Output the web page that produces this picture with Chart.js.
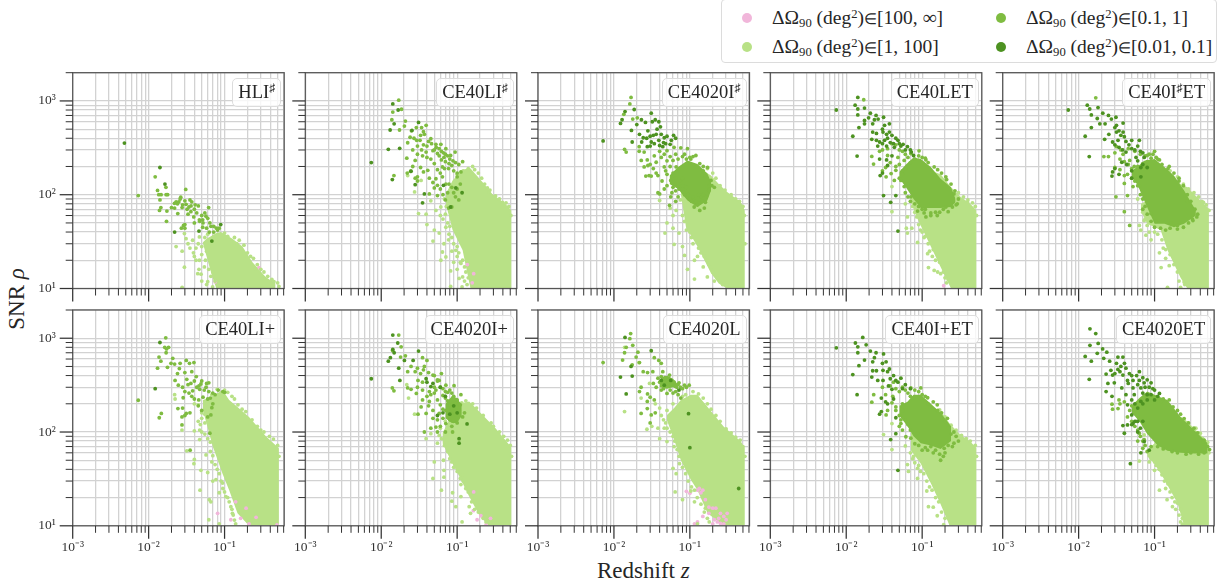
<!DOCTYPE html>
<html>
<head>
<meta charset="utf-8">
<script src="https://cdn.jsdelivr.net/npm/chart.js@4"></script>
<style>
  body { margin: 0; background: #fff; width: 1220px; height: 588px; overflow: hidden; position: relative; font-family: "Liberation Serif", serif; color: #262626; }
  canvas { position: absolute; }
  sup, sub { font-size: 65%; line-height: 0; position: relative; vertical-align: baseline; }
  sup { top: -0.45em; }
  sub { top: 0.25em; }
  .tag { position: absolute; border: 1px solid #dcdcdc; border-radius: 5px; background: rgba(255,255,255,0.8); padding: 0 5px; font-size: 18.5px; line-height: 27px; white-space: nowrap; }
  .legend { position: absolute; left: 721px; top: -1px; width: 494px; height: 62px; border: 1px solid #dcdcdc; border-radius: 4px; background: #fff; }
  .dot { position: absolute; width: 10px; height: 10px; border-radius: 50%; }
  .entry { position: absolute; font-size: 19.5px; line-height: 20px; white-space: nowrap; }
  .entry .in { font-size: 15px; }
  .title { position: absolute; font-size: 23px; white-space: nowrap; }
</style>
</head>
<body>
<div class="title" style="left:597px;top:558px">Redshift <i>z</i></div>
<div class="title" style="left:-14px;top:286px;transform:rotate(-90deg)">SNR <i>ρ</i></div>
<script>
// tick values
const xTickValues = [0.001,0.002,0.003,0.004,0.005,0.006,0.007,0.008,0.009,0.01,0.02,0.03,0.04,0.05,0.06,0.07,0.08,0.09,0.1,0.2,0.3,0.4,0.5,0.6];
const yTickValues = [10,20,30,40,50,60,70,80,90,100,200,300,400,500,600,700,800,900,1000,2000];
const xTickLabels = { 0.001: "10⁻³", 0.01: "10⁻²", 0.1: "10⁻¹" };
const yTickLabels = { 10: "10¹", 100: "10²", 1000: "10³" };

// HLI#
const hliDark = [[0.0048,355],[0.0141,195],[0.0164,130],[0.068,32],[0.046,41],[0.022,40],[0.089,48]];
const hliMid = [[0.0122,155],[0.0073,98],[0.0131,111],[0.0136,100],[0.0146,100],[0.0169,120],[0.017,100],[0.0178,100],[0.0308,114],[0.0265,94],[0.035,88],[0.0141,88],[0.0145,73],[0.0139,68],[0.0174,67],[0.02,73],[0.0219,81],[0.025,84],[0.0276,73],[0.0311,79],[0.0362,76],[0.0452,76],[0.0617,73],[0.0321,70],[0.0242,63],[0.0393,58],[0.0466,54],[0.0569,59],[0.0515,54],[0.0172,52],[0.0288,47],[0.0661,46],[0.081,42],[0.0515,45],[0.063,40],
  [0.033,62],[0.036,66],[0.04,70],[0.043,64],[0.05,60],[0.055,64],[0.047,52],[0.052,50],[0.06,56],[0.064,50],[0.072,46],[0.078,44],[0.058,44],[0.03,48],[0.027,44],[0.03,44],[0.028,78],[0.024,80],[0.023,84],[0.026,90],[0.037,84],[0.03,86],[0.022,72],[0.034,74],[0.041,78],[0.072,40],[0.085,44],[0.04,50]];
const hliLight = [[0.023,28],[0.0276,25],[0.0296,16.9],[0.0276,10.3],[0.0389,24],[0.0443,14.4],[0.049,14.2],[0.06,11.8],[0.0696,10.4],[0.0421,20],[0.0466,20],[0.0542,17],[0.038,32.7],[0.0296,38.5],[0.0311,34],[0.0466,35.5],[0.156,32.7],[0.257,16.3],[0.447,11.8],
  [0.045,30],[0.05,28],[0.042,27],[0.055,35],[0.06,38],[0.05,23],[0.056,20],[0.062,16],[0.066,13.5],[0.07,15],[0.075,12],[0.058,25],[0.062,28],[0.065,33],[0.072,36],[0.08,36],[0.1,39],[0.11,36],[0.135,35],[0.145,30],[0.18,29],[0.2,24],[0.22,22],[0.24,21],[0.27,18],[0.3,16],[0.33,15],[0.37,13.5],[0.42,12.5],[0.5,11.5],[0.52,10.5],[0.04,22],[0.046,16],[0.035,27],[0.033,30],[0.05,12],[0.058,11]];
const hliPink = [[0.284,16.7],[0.0755,11.8]];
const hliMassZ = [0.0515,0.058,0.0696,0.078,0.0895,0.127,0.172,0.233,0.348,0.47];
const hliMassTop = [31,34,37,39,40,34,28,19,13.3,11.3];
const hliMassLow = [31,22,13,10,10,10,10,10,10,10];

// CE40LI#
const ce40liSharpDark = [[0.0142,930],[0.0124,305],[0.0175,312],[0.0074,220],[0.014,145],[0.0167,800],[0.0148,570],[0.0131,490],[0.0254,485],[0.031,590],[0.037,102],[0.035,82],[0.028,128],[0.0247,178],[0.116,105],[0.096,118],[0.066,126],[0.082,74]];
const ce40liSharpMid = [[0.017,1020],[0.0185,815],[0.0142,760],[0.0138,630],[0.0174,490],[0.0208,610],[0.0202,540],[0.0223,358],[0.0293,380],[0.0324,380],[0.037,440],[0.039,550],[0.045,395],[0.0525,345],[0.061,345],[0.071,310],[0.094,285],[0.039,285],[0.048,295],[0.055,275],[0.067,250],[0.082,262],[0.118,225],[0.028,232],[0.0217,245],[0.0244,178],[0.03,155],[0.041,182],[0.0525,148],[0.064,198],[0.077,190],[0.1,155],[0.112,175],[0.064,155],[0.071,130],[0.1,115],[0.055,126],[0.043,102],[0.055,98],[0.0147,160],[0.077,72],[0.085,74],
  [0.03,330],[0.034,300],[0.036,340],[0.04,330],[0.042,370],[0.046,350],[0.05,300],[0.053,320],[0.058,310],[0.062,290],[0.066,280],[0.07,270],[0.075,260],[0.08,240],[0.088,230],[0.095,220],[0.105,210],[0.058,260],[0.062,235],[0.07,225],[0.078,215],[0.085,205],[0.09,180],[0.1,170],[0.068,190],[0.06,170],[0.055,185],[0.05,215],[0.045,240],[0.04,250],[0.035,260],[0.03,270],[0.026,300],[0.024,410],[0.027,400],[0.033,430],[0.029,520],[0.034,520],[0.036,470],[0.025,480],[0.078,130],[0.085,120],[0.09,105],[0.075,105],[0.065,100],[0.06,115],[0.05,118],[0.048,135],[0.043,150],[0.036,175],[0.033,195],[0.026,200],[0.022,170],[0.028,150],[0.03,140],[0.11,130],[0.095,95],[0.105,88],[0.07,88]];
const ce40liSharpLight = [[0.031,63],[0.039,62],[0.04,48],[0.05,42],[0.058,39],[0.048,32],[0.067,30],[0.077,33],[0.064,24.5],[0.071,21.7],[0.061,20],[0.082,15.4],[0.112,18.5],[0.106,12.8],[0.118,13.3],[0.082,10.5],[0.116,10.4],[0.0525,68],[0.045,86],[0.061,74],[0.071,45],[0.096,25.5],[0.118,20],[0.0275,107],[0.0335,142],[0.0223,160],[0.262,107],[0.395,83],
  [0.06,60],[0.065,55],[0.07,62],[0.072,75],[0.068,90],[0.075,50],[0.08,46],[0.078,38],[0.085,35],[0.09,30],[0.1,28],[0.1,22],[0.105,24],[0.11,19],[0.125,17],[0.13,15],[0.125,12],[0.135,11],[0.14,13],[0.09,19],[0.1,16],[0.085,25],[0.14,190],[0.16,200],[0.12,180],[0.1,165],[0.19,170],[0.23,130],[0.25,118],[0.27,112],[0.32,97],[0.36,90],[0.44,82],[0.48,75],[0.51,60],[0.17,185],[0.21,150]];
const ce40liSharpPink = [[0.136,18],[0.165,14.4],[0.158,11.5]];
const ce40liSharpMassZ = [0.071,0.087,0.118,0.136,0.15,0.215,0.29,0.43,0.52];
const ce40liSharpMassTop = [102,142,183,190,190,137,102,80,68];
const ce40liSharpMassLow = [80,42,25.5,14.5,10,10,10,10,10];

// CE4020I#
const ce4020iSharpDark = [[0.0072,375],[0.014,770],[0.0128,630],[0.0122,575],[0.017,485],[0.0174,365],[0.031,740],[0.026,590],[0.032,600],[0.035,630],[0.039,600],[0.037,500],[0.041,530],[0.0217,440],[0.0243,405],[0.0232,365],[0.031,365],[0.039,380],[0.04,335],[0.046,405],[0.061,430],[0.057,380],[0.044,325],[0.0275,325],[0.0185,810],
  [0.02,560],[0.023,630],[0.028,480],[0.03,420],[0.033,430],[0.036,440],[0.042,440],[0.05,420],[0.048,350],[0.055,345],[0.03,330],[0.034,350],[0.027,400],[0.065,400],[0.045,360]];
const ce4020iSharpMid = [[0.0168,1090],[0.0162,930],[0.0135,720],[0.0177,640],[0.0203,660],[0.0138,305],[0.0145,285],[0.0215,325],[0.0215,290],[0.025,285],[0.0229,232],[0.0275,235],[0.028,205],[0.025,198],[0.033,190],[0.0263,158],[0.031,158],[0.038,160],[0.036,222],[0.042,250],[0.05,295],[0.062,320],[0.076,316],[0.093,310],[0.12,262],[0.103,240],[0.046,198],[0.05,165],[0.06,232],[0.066,198],[0.056,142],[0.046,115],[0.038,105],[0.04,102],[0.056,95],[0.054,77],[0.072,115],[0.082,107],[0.093,95],[0.114,74],[0.135,68],[0.155,72],[0.16,83],[0.14,95],[0.178,111],[0.19,142],[0.15,180],[0.171,195],
  [0.055,200],[0.06,170],[0.065,150],[0.07,130],[0.075,140],[0.08,150],[0.08,125],[0.085,100],[0.09,120],[0.095,100],[0.1,90],[0.105,85],[0.11,95],[0.12,85],[0.125,78],[0.13,100],[0.145,85],[0.15,100],[0.165,95],[0.18,125],[0.195,125],[0.21,120],[0.06,120],[0.065,110],[0.07,95],[0.065,85],[0.058,105],[0.05,125],[0.043,140],[0.048,180],[0.055,255],[0.065,270],[0.07,240],[0.08,255],[0.085,270],[0.09,240],[0.1,250],[0.11,255],[0.135,215],[0.15,200],[0.145,160],[0.03,210],[0.034,260],[0.04,290],[0.046,270],[0.05,230],[0.036,170],[0.029,160]];
const ce4020iSharpLight = [[0.05,50],[0.047,39],[0.06,44],[0.072,39],[0.062,29.5],[0.085,22.5],[0.08,28],[0.093,16],[0.115,12.6],[0.115,20],[0.126,22],[0.11,30],[0.15,17],[0.17,13.3],[0.178,18],[0.04,87],[0.066,68],
  [0.08,60],[0.085,52],[0.09,42],[0.1,40],[0.105,35],[0.125,32],[0.13,27],[0.14,24],[0.155,22],[0.17,20],[0.19,17],[0.2,15],[0.23,13],[0.25,12],[0.27,11],[0.21,12],[0.055,72],[0.06,60],[0.075,88],[0.25,125],[0.29,112],[0.35,100],[0.4,90],[0.45,85],[0.5,75],[0.52,60],[0.53,30],[0.22,150],[0.2,170],[0.17,190]];
const ce4020iSharpPink = [];
const ce4020iSharpMassZ = [0.076,0.089,0.126,0.19,0.24,0.31,0.47,0.53];
const ce4020iSharpMassTop = [111,155,198,160,130,107,83,68];
const ce4020iSharpMassLow = [102,45,28,14.5,11.3,10,10,10];
const ce4020iSharpBlobZ = [0.054,0.07,0.093,0.126,0.17,0.19];
const ce4020iSharpBlobTop = [160,198,232,212,168,137];
const ce4020iSharpBlobLow = [130,115,87,74,87,111];

// CE40LET
const ce40letDark = [[0.0074,800],[0.0142,1090],[0.0131,900],[0.0142,820],[0.0174,840],[0.0142,710],[0.0208,740],[0.0174,620],[0.0197,660],[0.0247,700],[0.0263,640],[0.031,670],[0.0235,630],[0.0174,570],[0.0147,520],[0.0223,570],[0.0122,420],[0.0139,258],[0.032,550],[0.037,570],[0.0305,465],[0.037,465],[0.0223,465],[0.0217,390],[0.0275,365],[0.032,380],[0.04,430],[0.048,380],[0.0525,330],[0.043,320],[0.064,325],[0.077,262],[0.028,160],[0.035,205],[0.0275,240],[0.031,98],[0.045,98],[0.0385,83],[0.048,41],
  [0.025,450],[0.03,500],[0.034,440],[0.035,400],[0.038,360],[0.042,350],[0.045,400],[0.05,350],[0.056,345],[0.06,300],[0.07,300],[0.072,285],[0.03,350],[0.034,330],[0.026,330],[0.04,260],[0.03,170],[0.034,235],[0.025,380]];
const ce40letMid = [[0.017,1030],[0.0217,256],[0.0229,212],[0.0275,290],[0.035,262],[0.0335,155],[0.039,168],[0.045,182],[0.043,142],[0.0525,142],[0.058,122],[0.058,232],[0.048,250],[0.071,275],[0.091,294],[0.112,235],[0.144,198],[0.205,155],[0.262,102],[0.29,80],[0.205,74],[0.158,60],[0.13,64],[0.106,64],[0.087,67],[0.071,95],[0.112,58],
  [0.03,300],[0.035,310],[0.04,350],[0.045,340],[0.05,300],[0.055,290],[0.06,270],[0.065,250],[0.07,220],[0.08,240],[0.09,260],[0.1,250],[0.11,245],[0.12,220],[0.045,200],[0.05,210],[0.055,180],[0.06,190],[0.05,150],[0.055,165],[0.065,130],[0.06,105],[0.07,85],[0.08,80],[0.09,75],[0.1,70],[0.11,70],[0.13,60],[0.15,65],[0.17,65],[0.19,70],[0.22,66],[0.25,74],[0.28,78],[0.3,90],[0.27,110],[0.24,130],[0.21,145],[0.18,170],[0.16,185],[0.033,195],[0.038,220],[0.03,180],[0.065,95]];
const ce40letLight = [[0.04,122],[0.04,66],[0.062,44],[0.073,44],[0.064,39],[0.087,31],[0.106,35],[0.118,23.5],[0.136,22],[0.121,16.7],[0.144,15.6],[0.16,15],[0.175,14.4],[0.395,83],[0.06,80],[0.064,58],
  [0.075,75],[0.08,65],[0.085,58],[0.09,48],[0.095,42],[0.1,40],[0.11,36],[0.12,30],[0.125,25],[0.14,26],[0.15,20],[0.17,19],[0.19,15],[0.2,13],[0.21,11.5],[0.22,12.5],[0.3,105],[0.35,95],[0.4,88],[0.46,82],[0.5,75],[0.52,60]];
const ce40letPink = [[0.192,10.7]];
const ce40letMassZ = [0.071,0.087,0.13,0.175,0.24,0.32,0.43,0.52];
const ce40letMassTop = [102,130,180,165,120,95,80,68];
const ce40letMassLow = [83,55,28,17,10,10,10,10];
const ce40letBlobZ = [0.05,0.061,0.077,0.096,0.13,0.175,0.24,0.275];
const ce40letBlobTop = [175,210,250,240,198,148,120,90];
const ce40letBlobLow = [150,120,90,72,72,72,74,83];

// CE40I#ET
const ce40iSharpEtDark = [[0.0073,800],[0.013,900],[0.018,850],[0.0147,710],[0.014,820],[0.0208,740],[0.0247,700],[0.027,640],[0.031,670],[0.0176,650],[0.019,570],[0.0147,520],[0.0223,570],[0.0122,420],[0.0138,255],[0.0315,550],[0.0385,580],[0.0315,465],[0.0385,465],[0.022,390],[0.028,365],[0.033,380],[0.04,415],[0.05,380],[0.063,380],[0.042,285],[0.057,250],[0.037,222],[0.028,175],[0.0275,158],[0.034,165],[0.066,195],[0.08,195],[0.066,155],[0.073,250],
  [0.025,440],[0.03,520],[0.034,480],[0.036,430],[0.042,370],[0.046,340],[0.05,310],[0.055,300],[0.06,330],[0.065,290],[0.07,280],[0.06,230],[0.07,210],[0.05,180],[0.03,340],[0.034,320],[0.038,300],[0.043,210],[0.05,150],[0.03,190]];
const ce40iSharpEtMid = [[0.0168,1080],[0.0215,255],[0.0247,255],[0.0315,325],[0.0385,270],[0.047,232],[0.054,200],[0.044,165],[0.04,132],[0.052,122],[0.063,125],[0.031,95],[0.044,98],[0.04,66],[0.047,47],[0.1,290],[0.116,235],[0.08,262],[0.156,200],[0.21,140],[0.27,85],[0.37,62],[0.315,55],[0.2,47],[0.163,50],[0.104,52],[0.09,63],[0.07,70],
  [0.05,150],[0.055,140],[0.06,125],[0.065,100],[0.07,90],[0.075,75],[0.08,62],[0.09,52],[0.1,45],[0.12,44],[0.14,42],[0.16,44],[0.2,43],[0.24,45],[0.28,50],[0.32,53],[0.36,58],[0.34,70],[0.3,85],[0.27,100],[0.24,125],[0.21,150],[0.18,170],[0.15,190],[0.125,210],[0.11,240],[0.09,245],[0.08,225],[0.07,215],[0.06,200],[0.05,190],[0.045,210],[0.04,225],[0.035,240],[0.03,280],[0.036,300],[0.045,310],[0.055,290],[0.065,270],[0.075,260],[0.085,270],[0.095,270],[0.105,250],[0.03,195],[0.035,185],[0.04,160]];
const ce40iSharpEtLight = [[0.063,47],[0.066,42],[0.077,37],[0.09,33],[0.116,24],[0.14,21],[0.122,16.7],[0.148,10.3],[0.156,17.5],[0.22,10.3],[0.44,83],[0.06,90],[0.073,53],[0.245,11.7],
  [0.07,65],[0.075,55],[0.08,47],[0.085,40],[0.1,40],[0.11,38],[0.125,33],[0.13,27],[0.14,26],[0.16,23],[0.18,18],[0.2,15],[0.21,12],[0.25,11],[0.24,130],[0.28,115],[0.33,105],[0.38,95],[0.42,85],[0.48,78],[0.52,68],[0.16,180],[0.2,155]];
const ce40iSharpEtPink = [];
const ce40iSharpEtMassZ = [0.066,0.08,0.12,0.148,0.22,0.27,0.4,0.52];
const ce40iSharpEtMassTop = [80,87,165,180,130,120,87,71];
const ce40iSharpEtMassLow = [68,49,42,25.5,13,10,10,10];
const ce40iSharpEtBlobZ = [0.05,0.06,0.073,0.1,0.135,0.18,0.245,0.35];
const ce40iSharpEtBlobTop = [180,200,230,240,198,160,111,68];
const ce40iSharpEtBlobLow = [155,126,87,49,49,45,49,60];

// CE40LI+
const ce40liPlusDark = [[0.0141,900],[0.0122,290]];
const ce40liPlusMid = [[0.0168,1010],[0.0163,800],[0.0183,800],[0.0172,770],[0.0137,630],[0.0145,570],[0.0131,480],[0.0177,490],[0.0208,610],[0.0197,540],[0.0313,580],[0.0345,540],[0.0395,550],[0.0254,475],[0.037,440],[0.0223,355],[0.0246,316],[0.0318,365],[0.0424,390],[0.062,335],[0.0488,325],[0.038,275],[0.047,285],[0.057,300],[0.0285,232],[0.037,240],[0.0457,220],[0.0825,280],[0.07,200],[0.068,182],[0.0243,178],[0.0313,158],[0.0275,145],[0.0147,158],[0.0138,142],[0.0275,119],[0.064,97],[0.0352,64],[0.066,152],[0.0073,218],
  [0.017,700],[0.022,530],[0.024,420],[0.026,540],[0.03,430],[0.033,320],[0.036,330],[0.04,350],[0.043,300],[0.046,310],[0.05,350],[0.054,280],[0.058,330],[0.062,270],[0.07,260],[0.075,250],[0.065,230],[0.06,225],[0.052,235],[0.03,270],[0.028,300],[0.034,260],[0.028,180],[0.03,150],[0.035,160],[0.04,225],[0.045,190],[0.05,170],[0.06,145],[0.095,270],[0.1,265]];
const ce40liPlusLight = [[0.022,250],[0.0223,225],[0.0275,105],[0.04,103],[0.047,105],[0.0318,63],[0.04,51],[0.0395,46],[0.0488,39],[0.06,37],[0.07,30],[0.0475,24],[0.063,19],[0.066,18],[0.085,22.5],[0.104,20.5],[0.062,11.6],[0.085,10.5],[0.121,16],[0.14,10.5],[0.047,83],[0.057,57],[0.077,31],[0.094,28.6],[0.127,13.6],
  [0.04,200],[0.045,195],[0.05,160],[0.05,140],[0.048,120],[0.055,125],[0.05,100],[0.055,95],[0.06,85],[0.065,78],[0.065,62],[0.07,56],[0.068,48],[0.075,45],[0.08,40],[0.085,36],[0.09,30],[0.095,25],[0.1,23],[0.11,20],[0.115,18],[0.125,15],[0.13,13],[0.135,11.5],[0.1,280],[0.11,265],[0.125,240],[0.135,225],[0.15,195],[0.17,175],[0.19,165],[0.23,135],[0.27,115],[0.3,105],[0.33,100],[0.39,90],[0.44,84],[0.5,72],[0.52,55],[0.045,130],[0.055,155],[0.062,195],[0.068,250],[0.08,285]];
const ce40liPlusPink = [[0.081,13.6],[0.121,11.6],[0.14,18],[0.192,15.4],[0.26,12.3],[0.163,12],[0.49,10.2],[0.21,10.5]];
const ce40liPlusMassZ = [0.052,0.07,0.094,0.115,0.148,0.21,0.35,0.52];
const ce40liPlusMassTop = [220,240,280,220,185,145,90,67];
const ce40liPlusMassLow = [170,70,36,24,13.6,10,10,10];

// CE4020I+
const ce4020iPlusDark = [[0.0074,370],[0.0142,1080],[0.0165,890],[0.0142,760],[0.0132,620],[0.0124,570],[0.0148,700],[0.017,480],[0.0176,355],[0.031,730],[0.0263,580],[0.0202,580],[0.039,370],[0.045,305],[0.106,76],[0.106,85],[0.135,122],
  [0.04,340],[0.048,330],[0.06,300],[0.07,240],[0.08,155],[0.09,190],[0.1,160],[0.065,160],[0.055,150]];
const ce4020iPlusMid = [[0.017,1080],[0.0183,810],[0.0141,740],[0.018,630],[0.0208,650],[0.0223,440],[0.0247,500],[0.028,440],[0.035,620],[0.04,580],[0.037,500],[0.0305,355],[0.035,340],[0.048,405],[0.062,420],[0.058,355],[0.071,316],[0.091,312],[0.0525,280],[0.043,270],[0.0247,285],[0.029,258],[0.0223,295],[0.014,295],[0.0147,275],[0.035,220],[0.043,212],[0.055,220],[0.0335,185],[0.039,158],[0.048,140],[0.058,158],[0.071,170],[0.087,200],[0.112,250],[0.095,152],[0.118,145],[0.106,170],[0.071,123],[0.0525,113],[0.045,110],[0.037,100],[0.087,100],[0.077,150],[0.1,185],[0.0305,155],
  [0.05,300],[0.055,350],[0.06,300],[0.065,290],[0.07,270],[0.075,265],[0.08,280],[0.085,260],[0.09,240],[0.1,220],[0.105,200],[0.11,195],[0.065,245],[0.07,230],[0.075,215],[0.08,195],[0.085,180],[0.09,165],[0.075,170],[0.065,175],[0.06,195],[0.05,260],[0.045,250],[0.04,240],[0.035,280],[0.03,300],[0.033,420],[0.03,480],[0.036,460],[0.042,430],[0.05,400],[0.055,360],[0.08,135],[0.09,130],[0.1,125],[0.065,140],[0.055,135],[0.048,170],[0.042,190],[0.06,115],[0.07,100],[0.055,100],[0.085,115],[0.125,160]];
const ce4020iPlusLight = [[0.0229,230],[0.0217,320],[0.0275,155],[0.039,85],[0.045,96],[0.055,76],[0.05,48],[0.066,50],[0.048,32],[0.067,39],[0.067,33],[0.062,24],[0.087,22.5],[0.085,18.3],[0.112,27.5],[0.112,20.5],[0.096,16],[0.116,11],[0.144,16],[0.15,13.6],[0.118,35],
  [0.058,92],[0.062,85],[0.068,72],[0.075,62],[0.08,52],[0.085,48],[0.09,42],[0.1,38],[0.11,32],[0.12,30],[0.13,25],[0.14,23],[0.155,18],[0.17,15],[0.19,14],[0.22,12],[0.24,11],[0.07,130],[0.08,140],[0.095,170],[0.115,205],[0.13,215],[0.16,200],[0.18,180],[0.22,150],[0.28,125],[0.3,115],[0.36,100],[0.41,90],[0.46,82],[0.5,72],[0.52,55],[0.06,110]];
const ce4020iPlusPink = [[0.163,14.5],[0.183,11.6],[0.205,12.8],[0.24,10.2],[0.275,12],[0.165,23]];
const ce4020iPlusMassZ = [0.064,0.087,0.106,0.144,0.195,0.26,0.32,0.5,0.52];
const ce4020iPlusMassTop = [97,158,200,212,165,130,110,71,68];
const ce4020iPlusMassLow = [76,46,34,20.5,13,10,10,10,10];
const ce4020iPlusBlobZ = [0.07,0.085,0.1,0.115];
const ce4020iPlusBlobTop = [200,240,230,190];
const ce4020iPlusBlobLow = [140,125,125,150];

// CE4020L
const ce4020lDark = [[0.014,1020],[0.031,735],[0.0174,395],[0.0122,385],[0.0145,255],[0.096,157],[0.1,68],[0.44,25],[0.0168,500],[0.042,355],[0.046,316],[0.056,355],[0.072,280]];
const ce4020lMid = [[0.0166,1120],[0.0162,990],[0.0177,840],[0.0145,800],[0.0138,700],[0.013,585],[0.0207,710],[0.0196,630],[0.0174,520],[0.0072,550],[0.034,620],[0.039,580],[0.042,540],[0.0217,550],[0.0243,440],[0.0277,430],[0.0325,440],[0.038,375],[0.044,440],[0.054,405],[0.072,335],[0.085,316],[0.098,316],[0.0228,300],[0.0217,270],[0.0277,255],[0.0275,212],[0.031,152],[0.0228,158],[0.0275,178],[0.042,280],[0.05,258],[0.076,230],
  [0.042,390],[0.044,370],[0.047,380],[0.05,350],[0.053,360],[0.057,330],[0.062,340],[0.066,310],[0.07,320],[0.075,300],[0.08,290],[0.09,300],[0.046,340],[0.04,340],[0.036,300],[0.033,330],[0.045,290],[0.055,280],[0.06,260],[0.065,270],[0.07,250],[0.03,235],[0.034,220],[0.035,160],[0.03,125]];
const ce4020lLight = [[0.0138,800],[0.0138,165],[0.0228,230],[0.0294,330],[0.0213,550],[0.0272,107],[0.0315,115],[0.038,110],[0.046,110],[0.04,85],[0.05,79],[0.062,70],[0.073,46],[0.064,23],[0.08,19],[0.115,18],[0.06,41],[0.066,36],[0.103,23.5],[0.16,15.4],[0.126,10.5],
  [0.035,200],[0.04,180],[0.042,150],[0.045,135],[0.048,125],[0.05,110],[0.055,100],[0.06,90],[0.063,80],[0.068,65],[0.072,55],[0.08,42],[0.088,36],[0.095,30],[0.105,26],[0.115,24],[0.125,20],[0.14,17],[0.155,14],[0.17,12],[0.18,11],[0.11,270],[0.13,255],[0.15,230],[0.17,200],[0.19,175],[0.22,150],[0.25,130],[0.3,108],[0.35,98],[0.4,88],[0.46,82],[0.5,70],[0.53,55],[0.088,250],[0.08,240],[0.06,200],[0.05,170]];
const ce4020lPink = [[0.09,23.3],[0.1,22.3],[0.133,25],[0.148,24],[0.14,22.5],[0.126,24],[0.16,19],[0.2,15.4],[0.22,15.4],[0.253,13.6],[0.28,12.6],[0.3,11.6],[0.24,12],[0.21,11.6],[0.23,11],[0.148,12.6],[0.178,13.6],[0.126,11],[0.115,10.5],[0.253,10.6],[0.2,10.5],[0.28,10.5],[0.31,13.6],[0.178,15.8]];
const ce4020lMassZ = [0.05,0.062,0.076,0.103,0.126,0.171,0.28,0.47,0.53];
const ce4020lMassTop = [152,180,220,250,250,185,114,79,67];
const ce4020lMassLow = [133,83,50,31,24,13.6,10,10,10];
const ce4020lBlobZ = [0.04,0.05,0.06,0.07];
const ce4020lBlobTop = [350,400,370,320];
const ce4020lBlobLow = [300,290,300,280];

// CE40I+ET
const ce40iPlusEtDark = [[0.0074,790],[0.0165,1020],[0.0132,890],[0.0183,850],[0.0142,810],[0.0142,700],[0.0208,730],[0.0247,700],[0.031,680],[0.0174,585],[0.0235,620],[0.0147,510],[0.0223,560],[0.0122,410],[0.0139,250],[0.0335,560],[0.0305,455],[0.037,470],[0.0223,450],[0.0217,385],[0.026,355],[0.0305,355],[0.045,355],[0.0525,375],[0.029,165],[0.0275,155],[0.035,200],[0.029,230],[0.04,285],[0.045,142],[0.048,39],[0.045,96],[0.0385,83],
  [0.025,450],[0.03,540],[0.035,440],[0.038,370],[0.042,400],[0.048,340],[0.06,320],[0.07,290],[0.055,290],[0.036,310],[0.033,210],[0.042,225]];
const ce40iPlusEtMid = [[0.023,250],[0.0217,208],[0.041,240],[0.0335,152],[0.055,200],[0.045,170],[0.0525,135],[0.071,295],[0.096,295],[0.118,232],[0.158,195],[0.215,140],[0.262,100],[0.262,76],[0.195,67],[0.175,50],[0.15,64],[0.118,64],[0.1,64],[0.087,97],[0.071,86],[0.0525,123],[0.061,89],
  [0.03,300],[0.033,250],[0.038,310],[0.042,340],[0.045,290],[0.05,270],[0.055,300],[0.06,280],[0.065,260],[0.07,240],[0.075,230],[0.08,280],[0.09,270],[0.1,250],[0.11,240],[0.12,200],[0.14,210],[0.16,170],[0.18,160],[0.2,130],[0.22,110],[0.24,95],[0.28,90],[0.3,80],[0.25,70],[0.22,72],[0.2,60],[0.19,55],[0.17,58],[0.13,70],[0.14,60],[0.11,68],[0.09,72],[0.08,75],[0.07,105],[0.06,135],[0.05,150],[0.055,170],[0.045,185],[0.04,205],[0.035,170],[0.055,105],[0.065,120],[0.05,115]];
const ce40iPlusEtLight = [[0.031,94],[0.04,123],[0.04,65],[0.06,71],[0.064,45],[0.066,38],[0.087,32],[0.115,23.5],[0.121,16],[0.14,15.8],[0.158,12.8],[0.192,10.3],[0.087,41],[0.077,55],
  [0.07,60],[0.075,52],[0.08,47],[0.09,44],[0.095,38],[0.105,36],[0.115,30],[0.125,26],[0.135,24],[0.15,20],[0.165,18],[0.18,14],[0.2,12],[0.28,105],[0.33,92],[0.38,85],[0.43,80],[0.5,72],[0.52,55],[0.24,118],[0.2,145],[0.17,172]];
const ce40iPlusEtPink = [];
const ce40iPlusEtMassZ = [0.071,0.096,0.13,0.175,0.23,0.32,0.43,0.52];
const ce40iPlusEtMassTop = [97,123,185,170,123,93,79,67];
const ce40iPlusEtMassLow = [64,46,28.5,17,10,10,10,10];
const ce40iPlusEtBlobZ = [0.05,0.064,0.077,0.096,0.13,0.175,0.24];
const ce40iPlusEtBlobTop = [190,210,250,250,200,160,115];
const ce40iPlusEtBlobLow = [150,115,90,76,72,66,80];

// CE4020ET
const ce4020etDark = [[0.0141,1260],[0.0168,1120],[0.0141,840],[0.0181,880],[0.0207,770],[0.0122,640],[0.0176,690],[0.0235,710],[0.0147,570],[0.0214,610],[0.0256,570],[0.0138,365],[0.0329,630],[0.0383,630],[0.0315,540],[0.0401,540],[0.023,415],[0.0266,455],[0.0329,465],[0.0383,405],[0.0466,420],[0.0632,440],[0.028,405],[0.0243,330],[0.0295,335],[0.044,355],[0.052,355],[0.063,355],[0.073,335],[0.09,335],[0.037,295],[0.052,295],[0.066,295],[0.1,280],[0.116,258],[0.023,270],[0.0275,240],[0.042,250],[0.054,250],[0.066,212],[0.08,220],[0.1,220],[0.044,195],[0.05,152],[0.0383,117],[0.044,119],[0.052,123],[0.04,97],[0.048,46],[0.06,100],[0.066,60],[0.073,79],[0.085,64],
  [0.03,420],[0.035,440],[0.036,500],[0.042,480],[0.05,400],[0.058,400],[0.07,380],[0.08,360],[0.045,330],[0.06,320],[0.075,300],[0.085,300],[0.095,290],[0.07,260],[0.08,250],[0.09,250],[0.11,240],[0.055,200],[0.05,220],[0.06,180],[0.07,200],[0.05,120],[0.055,130],[0.06,130],[0.065,110],[0.07,130]];
const ce4020etMid = [[0.034,220],[0.0275,198],[0.033,178],[0.028,175],[0.047,170],[0.044,145],[0.057,130],[0.063,97],[0.073,83],[0.07,67],[0.09,70],[0.122,212],[0.156,220],[0.2,170],[0.245,139],[0.33,110],[0.44,79],
  [0.035,200],[0.04,210],[0.05,190],[0.055,170],[0.06,150],[0.05,130],[0.055,115],[0.06,105],[0.065,90],[0.07,80],[0.075,72],[0.08,62],[0.06,80],[0.085,220],[0.095,240],[0.105,235],[0.13,225],[0.175,185],[0.22,155],[0.28,125],[0.37,98],[0.45,82],[0.5,70],[0.53,65],[0.45,60],[0.38,58],[0.3,60],[0.26,58],[0.2,60],[0.17,62],[0.13,66],[0.11,70]];
const ce4020etLight = [[0.063,49],[0.085,48],[0.1,39],[0.148,30],[0.116,24],[0.14,25],[0.146,19],[0.172,16],[0.2,17.5],[0.22,15],[0.233,12],[0.233,10.4],[0.4,97],[0.47,79],[0.073,93],
  [0.085,60],[0.09,52],[0.1,48],[0.105,44],[0.115,40],[0.125,35],[0.135,30],[0.15,28],[0.16,23],[0.17,20],[0.185,18],[0.19,15],[0.21,13],[0.22,11],[0.27,125],[0.35,110],[0.43,85],[0.5,78],[0.52,60]];
const ce4020etPink = [];
const ce4020etMassZ = [0.08,0.1,0.135,0.2,0.245,0.37,0.52];
const ce4020etMassTop = [64,76,220,152,139,100,76];
const ce4020etMassLow = [55,46,31,17.5,10,10,10];
const ce4020etBlobZ = [0.05,0.063,0.08,0.11,0.148,0.22,0.33,0.5];
const ce4020etBlobTop = [190,230,270,240,220,145,105,76];
const ce4020etBlobLow = [160,130,95,72,63,60,59,59];

const pinkColor = "#f1b6da";
const lightColor = "#b8e186";
const midColor = "#7fbc41";
const darkColor = "#4d9221";

const panelLefts = [72.7, 305.3, 538, 770.3, 1002.7];
const rowTops = [72.7, 310];
const panelWidth = 211.5;
const panelHeight = 215.8;

const panels = [
  { tag: "HLI<sup>♯</sup>", dark: hliDark, mid: hliMid, light: hliLight, pink: hliPink, z: hliMassZ, top: hliMassTop, low: hliMassLow },
  { tag: "CE40LI<sup>♯</sup>", dark: ce40liSharpDark, mid: ce40liSharpMid, light: ce40liSharpLight, pink: ce40liSharpPink, z: ce40liSharpMassZ, top: ce40liSharpMassTop, low: ce40liSharpMassLow },
  { tag: "CE4020I<sup>♯</sup>", dark: ce4020iSharpDark, mid: ce4020iSharpMid, light: ce4020iSharpLight, pink: ce4020iSharpPink, z: ce4020iSharpMassZ, top: ce4020iSharpMassTop, low: ce4020iSharpMassLow, blobZ: ce4020iSharpBlobZ, blobTop: ce4020iSharpBlobTop, blobLow: ce4020iSharpBlobLow },
  { tag: "CE40LET", dark: ce40letDark, mid: ce40letMid, light: ce40letLight, pink: ce40letPink, z: ce40letMassZ, top: ce40letMassTop, low: ce40letMassLow, blobZ: ce40letBlobZ, blobTop: ce40letBlobTop, blobLow: ce40letBlobLow },
  { tag: "CE40I<sup>♯</sup>ET", dark: ce40iSharpEtDark, mid: ce40iSharpEtMid, light: ce40iSharpEtLight, pink: ce40iSharpEtPink, z: ce40iSharpEtMassZ, top: ce40iSharpEtMassTop, low: ce40iSharpEtMassLow, blobZ: ce40iSharpEtBlobZ, blobTop: ce40iSharpEtBlobTop, blobLow: ce40iSharpEtBlobLow },
  { tag: "CE40LI+", dark: ce40liPlusDark, mid: ce40liPlusMid, light: ce40liPlusLight, pink: ce40liPlusPink, z: ce40liPlusMassZ, top: ce40liPlusMassTop, low: ce40liPlusMassLow },
  { tag: "CE4020I+", dark: ce4020iPlusDark, mid: ce4020iPlusMid, light: ce4020iPlusLight, pink: ce4020iPlusPink, z: ce4020iPlusMassZ, top: ce4020iPlusMassTop, low: ce4020iPlusMassLow, blobZ: ce4020iPlusBlobZ, blobTop: ce4020iPlusBlobTop, blobLow: ce4020iPlusBlobLow },
  { tag: "CE4020L", dark: ce4020lDark, mid: ce4020lMid, light: ce4020lLight, pink: ce4020lPink, z: ce4020lMassZ, top: ce4020lMassTop, low: ce4020lMassLow, blobZ: ce4020lBlobZ, blobTop: ce4020lBlobTop, blobLow: ce4020lBlobLow },
  { tag: "CE40I+ET", dark: ce40iPlusEtDark, mid: ce40iPlusEtMid, light: ce40iPlusEtLight, pink: ce40iPlusEtPink, z: ce40iPlusEtMassZ, top: ce40iPlusEtMassTop, low: ce40iPlusEtMassLow, blobZ: ce40iPlusEtBlobZ, blobTop: ce40iPlusEtBlobTop, blobLow: ce40iPlusEtBlobLow },
  { tag: "CE4020ET", dark: ce4020etDark, mid: ce4020etMid, light: ce4020etLight, pink: ce4020etPink, z: ce4020etMassZ, top: ce4020etMassTop, low: ce4020etMassLow, blobZ: ce4020etBlobZ, blobTop: ce4020etBlobTop, blobLow: ce4020etBlobLow },
];

const legendEntries = [
  { color: pinkColor, x: 25, y: 17, text: "[100, ∞]" },
  { color: lightColor, x: 25, y: 46, text: "[1, 100]" },
  { color: midColor, x: 279, y: 17, text: "[0.1, 1]" },
  { color: darkColor, x: 279, y: 46, text: "[0.01, 0.1]" },
];

// ------------------- Helper Functions -------------------

function toPoints(pairs) {
  return pairs.map((p) => ({ x: p[0], y: p[1] }));
}

function curve(zs, rhos) {
  return zs.map((z, i) => ({ x: z, y: rhos[i] }));
}

function dotSet(pairs, color) {
  return { data: toPoints(pairs), backgroundColor: color, borderWidth: 0, pointRadius: 1.9, pointHoverRadius: 1.9 };
}

function bandSets(zs, tops, lows, color) {
  return [
    { type: "line", data: curve(zs, tops), borderWidth: 0, borderColor: "transparent", pointRadius: 0, tension: 0, fill: "+1", backgroundColor: color },
    { type: "line", data: curve(zs, lows), borderWidth: 0, borderColor: "transparent", pointRadius: 0, tension: 0, fill: false, backgroundColor: color },
  ];
}

// frame and the long/short ticks, drawn with the chart's own scales
const frameAndTicks = {
  id: "frameAndTicks",
  afterDraw(chart) {
    const { ctx, chartArea: a, scales } = chart;
    ctx.save();
    ctx.strokeStyle = "#555";
    ctx.lineWidth = 1.25;
    ctx.strokeRect(a.left, a.top, a.right - a.left, a.bottom - a.top);
    ctx.strokeStyle = "#333";
    xTickValues.forEach((v) => {
      const px = scales.x.getPixelForValue(v);
      const len = xTickLabels[v] ? 13 : 7;
      ctx.lineWidth = xTickLabels[v] ? 1.25 : 1;
      ctx.beginPath(); ctx.moveTo(px, a.bottom); ctx.lineTo(px, a.bottom + len); ctx.stroke();
    });
    yTickValues.forEach((v) => {
      const py = scales.y.getPixelForValue(v);
      const len = yTickLabels[v] ? 13 : 7;
      ctx.lineWidth = yTickLabels[v] ? 1.25 : 1;
      ctx.beginPath(); ctx.moveTo(a.left, py); ctx.lineTo(a.left - len, py); ctx.stroke();
    });
    ctx.restore();
  },
};

function renderPanel(panel, index) {
  const col = index % 5;
  const row = Math.floor(index / 5);
  const left = panelLefts[col];
  const top = rowTops[row];
  const canvasLeft = Math.floor(left) - 60;
  const canvasTop = Math.floor(top) - 30;
  const canvasWidth = 60 + 212 + 20;
  const canvasHeight = 30 + 216 + 45;
  const canvas = document.createElement("canvas");
  canvas.width = canvasWidth;
  canvas.height = canvasHeight;
  canvas.style.left = canvasLeft + "px";
  canvas.style.top = canvasTop + "px";
  document.body.appendChild(canvas);

  const datasets = [dotSet(panel.dark, darkColor), dotSet(panel.mid, midColor)];
  if (panel.blobZ) datasets.push(...bandSets(panel.blobZ, panel.blobTop, panel.blobLow, midColor));
  datasets.push(dotSet(panel.light, lightColor), dotSet(panel.pink, pinkColor));
  datasets.push(...bandSets(panel.z, panel.top, panel.low, lightColor));

  new Chart(canvas, {
    type: "scatter",
    data: { datasets },
    plugins: [frameAndTicks],
    options: {
      responsive: false,
      animation: false,
      events: [],
      layout: {
        padding: {
          top: top - canvasTop,
          right: canvasLeft + canvasWidth - (left + panelWidth),
          bottom: 0,
          left: 0,
        },
      },
      plugins: { legend: { display: false }, tooltip: { enabled: false } },
      scales: {
        x: {
          type: "logarithmic",
          min: 0.001,
          max: 0.61,
          afterBuildTicks: (axis) => { axis.ticks = xTickValues.map((v) => ({ value: v })); },
          afterFit: (axis) => { axis.height = canvasTop + canvasHeight - (top + panelHeight); },
          grid: { color: "#d2d2d2", lineWidth: 1.3, drawTicks: false },
          border: { display: false },
          ticks: {
            autoSkip: false, maxRotation: 0, minRotation: 0, padding: 14, color: "#333",
            font: { family: "Liberation Serif", size: 13.5 },
            callback: (v) => (row === 1 && xTickLabels[v]) || "",
          },
        },
        y: {
          type: "logarithmic",
          min: 10,
          max: 2000,
          afterBuildTicks: (axis) => { axis.ticks = yTickValues.map((v) => ({ value: v })); },
          afterFit: (axis) => { axis.width = left - canvasLeft; },
          grid: { color: "#d2d2d2", lineWidth: 1.3, drawTicks: false },
          border: { display: false },
          ticks: {
            autoSkip: false, padding: 17, color: "#333",
            font: { family: "Liberation Serif", size: 13.5 },
            callback: (v) => (col === 0 && yTickLabels[v]) || "",
          },
        },
      },
    },
  });

  const tag = document.createElement("div");
  tag.className = "tag";
  tag.innerHTML = panel.tag;
  tag.style.right = (1220 - (left + panelWidth - 3)) + "px";
  tag.style.top = (top + 5) + "px";
  document.body.appendChild(tag);
}

function renderLegend() {
  const box = document.createElement("div");
  box.className = "legend";
  legendEntries.forEach((e) => {
    const dot = document.createElement("div");
    dot.className = "dot";
    dot.style.cssText = `left:${e.x - 5}px;top:${e.y - 4}px;background:${e.color}`;
    box.appendChild(dot);
    const label = document.createElement("div");
    label.className = "entry";
    label.style.cssText = `left:${e.x + 25}px;top:${e.y - 9}px`;
    label.innerHTML = `ΔΩ<sub>90</sub> (deg<sup>2</sup>)<span class="in">∈</span>${e.text}`;
    box.appendChild(label);
  });
  document.body.appendChild(box);
}

panels.forEach(renderPanel);
renderLegend();
</script>
</body>
</html>
